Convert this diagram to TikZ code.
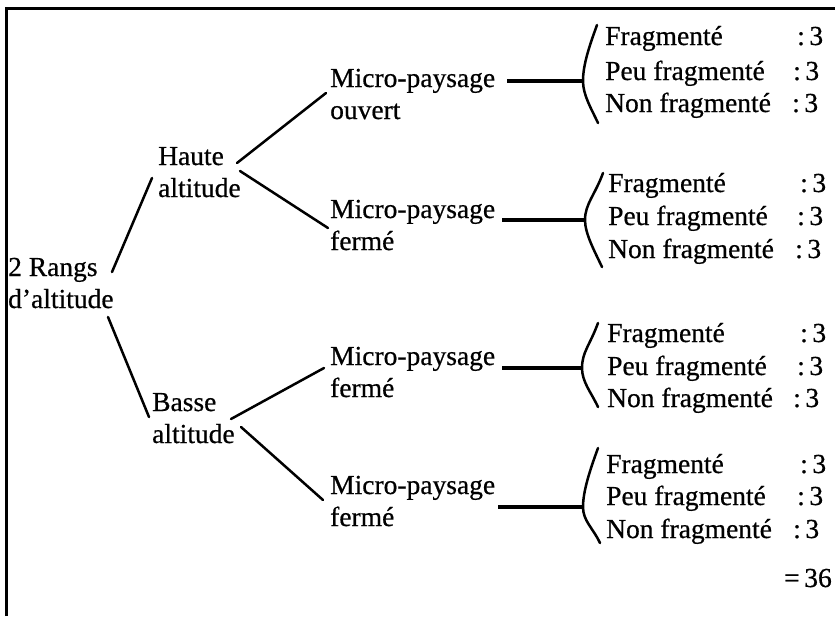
\documentclass[tikz,border=0pt]{standalone}
\usepackage{fontspec}
\setmainfont{Liberation Serif}[FakeBold=0.6]
\begin{document}
\begin{tikzpicture}[x=1pt,y=-1pt,
  lbl/.style={anchor=base west, inner sep=0pt, align=left, font=\fontsize{27.5}{32}\selectfont},
  edge/.style={line width=2.5pt, line cap=round},
  hline/.style={line width=3.2pt},
  bracestroke/.style={line width=2.5pt, line cap=round}]
\useasboundingbox (0,0) rectangle (835,616);
\draw[line width=2.4pt] (6.5,616) -- (6.5,8.5) -- (835,8.5);

% main labels (anchor at baseline of the last line)
\node[lbl] (rangs)  at (8,308)   {2 Rangs\\d’altitude};
\node[lbl] (haute)  at (158,197) {Haute\\altitude};
\node[lbl] (basse)  at (152,443) {Basse\\altitude};
\node[lbl] (micro1) at (330,119) {Micro-paysage\\ouvert};
\node[lbl] (micro2) at (330,250) {Micro-paysage\\fermé};
\node[lbl] (micro3) at (330,397) {Micro-paysage\\fermé};
\node[lbl] (micro4) at (330,526) {Micro-paysage\\fermé};

% connector end points
\coordinate (r1) at (112,272); \coordinate (h1) at (152,178);
\coordinate (r2) at (108,317); \coordinate (b1) at (149,417);
\coordinate (ha) at (237,163); \coordinate (m1) at (326,93);
\coordinate (hb) at (240,171); \coordinate (m2) at (328,228);
\coordinate (ba) at (231,419); \coordinate (m3) at (324,368);
\coordinate (bb) at (241,427); \coordinate (m4) at (323,500);
\draw[edge] (r1) -- (h1);
\draw[edge] (r2) -- (b1);
\draw[edge] (ha) -- (m1);
\draw[edge] (hb) -- (m2);
\draw[edge] (ba) -- (m3);
\draw[edge] (bb) -- (m4);

% horizontal lines and braces
\coordinate (s1) at (507,81);  \coordinate (t1) at (583,81);
\coordinate (s2) at (502,220); \coordinate (t2) at (585,220);
\coordinate (s3) at (502,368); \coordinate (t3) at (582,368);
\coordinate (s4) at (498,507); \coordinate (t4) at (583,507);
\draw[hline] (s1) -- (t1);
\draw[hline] (s2) -- (t2);
\draw[hline] (s3) -- (t3);
\draw[hline] (s4) -- (t4);

\coordinate (u1) at (597,25);  \coordinate (d1) at (598,123);
\coordinate (u2) at (603,173); \coordinate (d2) at (602,267);
\coordinate (u3) at (598,323); \coordinate (d3) at (598,407);
\coordinate (u4) at (598,448); \coordinate (d4) at (600,543);
\foreach \i in {1,2,3,4}{
  \draw[bracestroke] (u\i) .. controls +(-8,22) and +(0,-16) .. (t\i)
                          .. controls +(0,14) and +(-7,-15) .. (d\i);
}

% leaf rows
\foreach \g/\x/\ya/\yb/\yc/\ca/\cb/\cc in {
  1/605/45/80/112/797/793/792,
  2/608/192/225/258/800/797/795,
  3/607/342/375/407/800/797/793,
  4/606/473/505/538/800/797/793}{
  \node[lbl] (f\g a) at (\x,\ya) {Fragmenté};
  \node[lbl] (f\g b) at (\x,\yb) {Peu fragmenté};
  \node[lbl] (f\g c) at (\x,\yc) {Non fragmenté};
  \node[lbl] (c\g a) at (\ca,\ya) {:\,3};
  \node[lbl] (c\g b) at (\cb,\yb) {:\,3};
  \node[lbl] (c\g c) at (\cc,\yc) {:\,3};
}
\node[lbl] (total) at (784,587) {=\,36};
\end{tikzpicture}
\end{document}
